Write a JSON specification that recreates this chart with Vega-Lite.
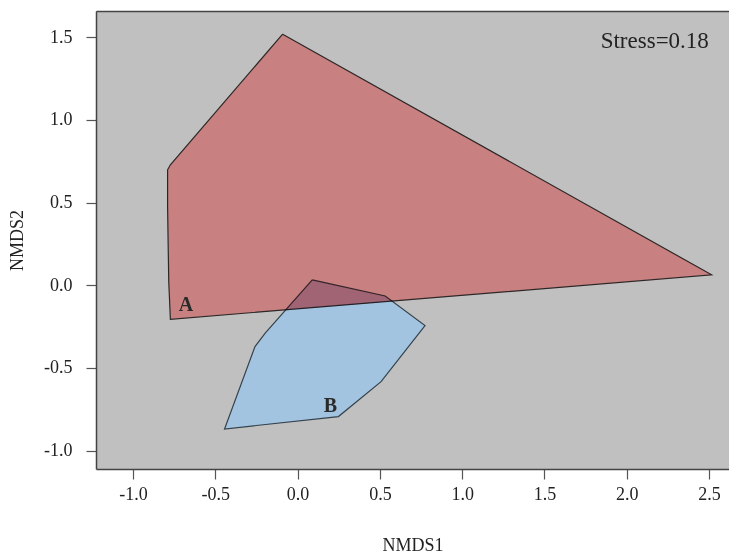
{
  "$schema": "https://vega.github.io/schema/vega-lite/v6.json",
  "width": 633,
  "height": 458,
  "autosize": {"type": "none"},
  "padding": {"left": 96, "top": 11, "right": 0, "bottom": 86},
  "background": "white",
  "config": {
    "view": {"fill": "#c0c0c0", "stroke": null},
    "axis": {
      "grid": false,
      "labelFont": "Liberation Serif",
      "labelFontSize": 18,
      "labelColor": "#222222",
      "titleFont": "Liberation Serif",
      "titleFontSize": 18,
      "titleFontWeight": "normal",
      "titleColor": "#222222",
      "domainColor": "#444444",
      "domainWidth": 1.5,
      "tickColor": "#555555",
      "tickSize": 10,
      "tickWidth": 1.2
    }
  },
  "datasets": {
    "poly": [
      {"g": "A", "o": 1, "x": -0.091, "y": 1.518},
      {"g": "A", "o": 2, "x": 2.515, "y": 0.063},
      {"g": "A", "o": 3, "x": -0.773, "y": -0.206},
      {"g": "A", "o": 4, "x": -0.783, "y": 0.022},
      {"g": "A", "o": 5, "x": -0.79, "y": 0.476},
      {"g": "A", "o": 6, "x": -0.79, "y": 0.698},
      {"g": "A", "o": 7, "x": -0.773, "y": 0.728},
      {"g": "A", "o": 8, "x": -0.091, "y": 1.518},
      {"g": "B", "o": 1, "x": 0.089, "y": 0.032},
      {"g": "B", "o": 2, "x": 0.532, "y": -0.065},
      {"g": "B", "o": 3, "x": 0.774, "y": -0.244},
      {"g": "B", "o": 4, "x": 0.507, "y": -0.583},
      {"g": "B", "o": 5, "x": 0.248, "y": -0.794},
      {"g": "B", "o": 6, "x": -0.444, "y": -0.869},
      {"g": "B", "o": 7, "x": -0.259, "y": -0.371},
      {"g": "B", "o": 8, "x": -0.197, "y": -0.29},
      {"g": "B", "o": 9, "x": 0.089, "y": 0.032}
    ],
    "groupLabels": [
      {"label": "A", "x": -0.679, "y": -0.119},
      {"label": "B", "x": 0.2, "y": -0.73}
    ],
    "stress": [
      {"label": "Stress=0.18", "x": 2.17, "y": 1.478}
    ]
  },
  "resolve": {"axis": {"x": "independent", "y": "independent"}},
  "layer": [
    {
      "data": {"name": "poly"},
      "transform": [{"filter": "datum.g === 'A'"}],
      "mark": {"type": "line", "fill": "#ccfbf6", "strokeWidth": 0, "stroke": "#ccfbf6"},
      "encoding": {
        "x": {"field": "x", "type": "quantitative",
          "scale": {"domain": [-1.225, 2.621], "nice": false, "zero": false},
          "axis": {"orient": "bottom", "values": [-1, -0.5, 0, 0.5, 1, 1.5, 2, 2.5], "labelExpr": "datum.value < 0 ? '-' + format(-datum.value, '.1f') : format(datum.value, '.1f')", "labelPadding": 6, "title": "NMDS1", "titlePadding": 33}},
        "y": {"field": "y", "type": "quantitative",
          "scale": {"domain": [-1.111, 1.658], "nice": false, "zero": false},
          "axis": {"orient": "left", "values": [-1, -0.5, 0, 0.5, 1, 1.5], "labelExpr": "datum.value < 0 ? '-' + format(-datum.value, '.1f') : format(datum.value, '.1f')", "labelPadding": 14, "title": "NMDS2", "titlePadding": 17}},
        "order": {"field": "o", "type": "quantitative"}
      }
    },
    {
      "data": {"name": "poly"},
      "transform": [{"filter": "datum.g === 'B'"}],
      "mark": {"type": "line", "fill": "#a3c4e0", "stroke": "#34424c", "strokeWidth": 1.2},
      "encoding": {
        "x": {"field": "x", "type": "quantitative", "axis": null},
        "y": {"field": "y", "type": "quantitative", "axis": null},
        "order": {"field": "o", "type": "quantitative"}
      }
    },
    {
      "data": {"name": "poly"},
      "transform": [{"filter": "datum.g === 'A'"}],
      "mark": {"type": "line", "fill": "#fa8285", "stroke": "#3a2c2c", "strokeWidth": 1.2, "blend": "multiply"},
      "encoding": {
        "x": {"field": "x", "type": "quantitative", "axis": null},
        "y": {"field": "y", "type": "quantitative", "axis": null},
        "order": {"field": "o", "type": "quantitative"}
      }
    },
    {
      "data": {"name": "groupLabels"},
      "mark": {"type": "text", "font": "Liberation Serif", "fontSize": 20, "fontWeight": "bold", "color": "#2a2a2a"},
      "encoding": {
        "x": {"field": "x", "type": "quantitative", "axis": {"orient": "top", "labels": false, "ticks": false, "domain": true, "title": null}},
        "y": {"field": "y", "type": "quantitative", "axis": null},
        "text": {"field": "label"}
      }
    },
    {
      "data": {"name": "stress"},
      "mark": {"type": "text", "font": "Liberation Serif", "fontSize": 23, "color": "#222222"},
      "encoding": {
        "x": {"field": "x", "type": "quantitative", "axis": null},
        "y": {"field": "y", "type": "quantitative", "axis": null},
        "text": {"field": "label"}
      }
    }
  ]
}
